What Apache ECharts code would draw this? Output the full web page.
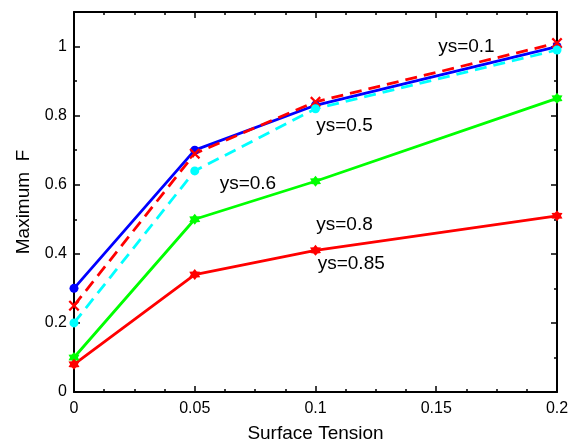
<!DOCTYPE html>
<html>
<head>
<meta charset="utf-8">
<script src="https://cdn.jsdelivr.net/npm/echarts@6/dist/echarts.min.js"></script>
<style>html,body{margin:0;padding:0;background:#fff}#c{width:580px;height:448px}</style>
</head>
<body>
<div id="c"></div>
<script>
const xValues = [0, 0.05, 0.1, 0.2];
const ys01 = [0.30, 0.70, 0.83, 1.00];
const ys05 = [0.25, 0.69, 0.84, 1.01];
const ys06 = [0.20, 0.64, 0.82, 0.99];
const ys08 = [0.10, 0.50, 0.61, 0.85];
const ys085 = [0.08, 0.34, 0.41, 0.51];
const xTicks = [0, 0.05, 0.1, 0.15, 0.2];
const yTicks = [0, 0.2, 0.4, 0.6, 0.8, 1];
const annotations = [
  { text: 'ys=0.1', x: 0.1625, y: 1.0 },
  { text: 'ys=0.5', x: 0.112, y: 0.772 },
  { text: 'ys=0.6', x: 0.072, y: 0.603 },
  { text: 'ys=0.8', x: 0.112, y: 0.483 },
  { text: 'ys=0.85', x: 0.1148, y: 0.372 }
];

const FONT = 'Liberation Sans, Arial, sans-serif';
const hexagram = 'path://M0,-10 L3.2,-5.5 L8.66,-5 L6.2,0 L8.66,5 L3.2,5.5 L0,10 L-3.2,5.5 L-8.66,5 L-6.2,0 L-8.66,-5 L-3.2,-5.5 Z';
const xMark = 'path://M-5,-7 L0,-2 L5,-7 L7,-5 L2,0 L7,5 L5,7 L0,2 L-5,7 L-7,5 L-2,0 L-7,-5 Z';

function pts(arr) { return arr.map((v, i) => [xValues[i], v]); }

function mk(name, data, color, dashed, symbol, size) {
  return {
    name, type: 'line', data: pts(data),
    symbol, symbolSize: size, showAllSymbol: true,
    lineStyle: { color, width: 2.8, type: dashed ? [12, 7] : 'solid' },
    itemStyle: { color, borderColor: color, borderWidth: 0 },
    emphasis: { disabled: true }, animation: false, z: 3
  };
}

const series = [
  mk('ys=0.1', ys01, '#0000ff', false, 'circle', 9),
  mk('ys=0.5', ys05, '#ff0000', true, xMark, 11),
  mk('ys=0.6', ys06, '#00ffff', true, 'circle', 9),
  mk('ys=0.8', ys08, '#00ff00', false, hexagram, 11),
  mk('ys=0.85', ys085, '#ff0000', false, hexagram, 11),
  {
    type: 'scatter', silent: true, symbol: 'circle', symbolSize: 1, animation: false, z: 5,
    itemStyle: { color: '#ffffff', opacity: 0 },
    label: { show: true, position: 'inside', color: '#000000', opacity: 1, textBorderWidth: 0,
      fontSize: 19, fontFamily: FONT, formatter: p => p.data.name },
    data: annotations.map(a => ({ name: a.text, value: [a.x, a.y] }))
  }
];

const axisLine = { show: true, onZero: false, lineStyle: { color: '#000', width: 2 } };
const tickStyle = { color: '#000', width: 1.5 };

const option = {
  backgroundColor: '#fff',
  animation: false,
  grid: { left: 74, right: 23, top: 12, bottom: 56 },
  xAxis: [
    {
      type: 'value', min: 0, max: 0.2, interval: 0.05, position: 'bottom',
      axisLine, splitLine: { show: false },
      axisTick: { show: true, inside: true, length: 6, lineStyle: tickStyle },
      minorTick: { show: true, splitNumber: 4, length: 3, lineStyle: tickStyle },
      axisLabel: { color: '#000', fontSize: 16, fontFamily: FONT, margin: 9,
        formatter: v => xTicks.includes(Math.round(v * 1000) / 1000) ? String(Math.round(v * 1000) / 1000) : '' },
      name: 'Surface Tension', nameLocation: 'middle', nameGap: 32,
      nameTextStyle: { color: '#000', fontSize: 19, fontFamily: FONT }
    },
    {
      type: 'value', min: 0, max: 0.2, interval: 0.05, position: 'top',
      axisLine, splitLine: { show: false },
      axisTick: { show: true, inside: true, length: 6, lineStyle: tickStyle },
      minorTick: { show: true, splitNumber: 4, length: 3, lineStyle: tickStyle },
      axisLabel: { show: false }
    }
  ],
  yAxis: [
    {
      type: 'value', min: 0, max: 1.1, interval: 0.2, position: 'left',
      axisLine, splitLine: { show: false },
      axisTick: { show: true, inside: true, length: 6, lineStyle: tickStyle },
      minorTick: { show: true, splitNumber: 2, length: 3, lineStyle: tickStyle },
      axisLabel: { color: '#000', fontSize: 16, fontFamily: FONT, margin: 7, showMaxLabel: false,
        formatter: v => { const r = Math.round(v * 10) / 10; return yTicks.includes(r) ? String(r) : ''; } },
      name: 'Maximum  F', nameLocation: 'middle', nameGap: 41,
      nameTextStyle: { color: '#000', fontSize: 19, fontFamily: FONT }
    },
    {
      type: 'value', min: 0, max: 1.1, interval: 0.2, position: 'right',
      axisLine, splitLine: { show: false },
      axisTick: { show: true, inside: true, length: 6, lineStyle: tickStyle },
      minorTick: { show: true, splitNumber: 2, length: 3, lineStyle: tickStyle },
      axisLabel: { show: false }
    }
  ],
  series
};

const chart = echarts.init(document.getElementById('c'), null, { renderer: 'canvas' });
chart.setOption(option);
</script>
</body>
</html>
